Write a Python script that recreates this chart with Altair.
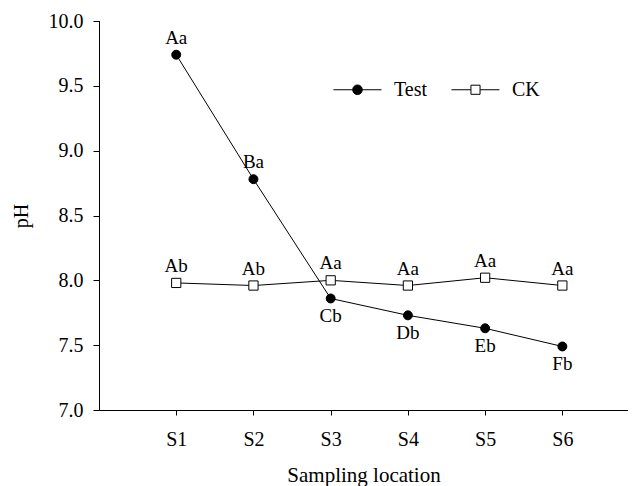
import altair as alt
import pandas as pd

# ---- data ----
sites = ["S1", "S2", "S3", "S4", "S5", "S6"]
site_index = [1, 2, 3, 4, 5, 6]
test_ph = [9.74, 8.78, 7.86, 7.73, 7.63, 7.49]
ck_ph = [7.98, 7.96, 8.00, 7.96, 8.02, 7.96]
test_letters = ["Aa", "Ba", "Cb", "Db", "Eb", "Fb"]
ck_letters = ["Ab", "Ab", "Aa", "Aa", "Aa", "Aa"]
test_label_side = ["above", "above", "below", "below", "below", "below"]
ck_label_side = ["above"] * 6
series_names = ["Test", "CK"]
y_ticks = [7.0, 7.5, 8.0, 8.5, 9.0, 9.5, 10.0]

rows = []
for i in range(len(sites)):
    rows.append(dict(idx=site_index[i], site=sites[i], series="Test",
                     ph=test_ph[i], letter=test_letters[i], side=test_label_side[i]))
for i in range(len(sites)):
    rows.append(dict(idx=site_index[i], site=sites[i], series="CK",
                     ph=ck_ph[i], letter=ck_letters[i], side=ck_label_side[i]))
df = pd.DataFrame(rows)

FONT = "Liberation Serif, Times New Roman, serif"

x_enc = alt.X(
    "idx:Q",
    scale=alt.Scale(domain=[0, 6.85], nice=False, zero=False),
    axis=alt.Axis(
        values=site_index, labelExpr="'S' + datum.value", title="Sampling location",
        grid=False, tickSize=5, labelPadding=14, titlePadding=15,
        labelFontSize=20, titleFontSize=21, labelFont=FONT, titleFont=FONT,
        titleFontWeight="normal", domainColor="black", tickColor="black",
        labelColor="black", titleColor="black", domainWidth=1, tickWidth=1,
    ),
)
y_enc = alt.Y(
    "ph:Q",
    scale=alt.Scale(domain=[7, 10], nice=False, zero=False),
    axis=alt.Axis(
        values=y_ticks, format=".1f", title="pH", grid=False, tickSize=6,
        labelPadding=10, titlePadding=17, labelFontSize=20, titleFontSize=20,
        labelFont=FONT, titleFont=FONT, titleFontWeight="normal",
        domainColor="black", tickColor="black", labelColor="black",
        titleColor="black", domainWidth=1, tickWidth=1,
    ),
)

base = alt.Chart(df)

lines = base.mark_line(color="black", strokeWidth=1).encode(
    x=x_enc, y=y_enc, detail="series:N"
)

points = base.mark_point(opacity=1, stroke="black", strokeWidth=1, filled=False).encode(
    x=x_enc, y=y_enc,
    shape=alt.Shape("series:N", scale=alt.Scale(domain=series_names, range=["circle", "square"]), legend=None),
    fill=alt.Fill("series:N", scale=alt.Scale(domain=series_names, range=["black", "white"]), legend=None),
    size=alt.Size("series:N", scale=alt.Scale(domain=series_names, range=[80, 85]), legend=None),
)

labels_above = base.transform_filter(alt.datum.side == "above").mark_text(
    font=FONT, fontSize=19, dy=-17, color="black"
).encode(x=x_enc, y=y_enc, text="letter:N")

labels_below = base.transform_filter(alt.datum.side == "below").mark_text(
    font=FONT, fontSize=19, dy=18, color="black"
).encode(x=x_enc, y=y_enc, text="letter:N")

# legend symbols: line segment with marker (custom paths, unit = half symbol width)
legend_paths = [
    "M-1,0H-0.2M0.2,0H1M0.2,0A0.2,0.2,0,1,1,-0.2,0A0.2,0.2,0,1,1,0.2,0Z",
    "M-1,0H-0.19M0.19,0H1M-0.19,-0.19H0.19V0.19H-0.19Z",
]
legend_cfg = dict(
    orient="none", legendX=234, legendY=44, direction="horizontal", title=None,
    symbolSize=2304, symbolStrokeColor="black", symbolStrokeWidth=1,
    labelFont=FONT, labelFontSize=20, labelColor="black", labelOffset=12,
    columnPadding=21, padding=0, symbolOpacity=1,
)
legend_layer = base.transform_filter("false").mark_point(
    opacity=1, strokeWidth=1
).encode(
    x=x_enc, y=y_enc,
    shape=alt.Shape("series:N", scale=alt.Scale(domain=series_names, range=legend_paths),
                    legend=alt.Legend(**legend_cfg)),
    fill=alt.Fill("series:N", scale=alt.Scale(domain=series_names, range=["black", "white"]),
                  legend=alt.Legend(**legend_cfg)),
    stroke=alt.Stroke("series:N", scale=alt.Scale(domain=series_names, range=["black", "black"]),
                      legend=alt.Legend(**legend_cfg)),
)

chart = alt.layer(lines, points, labels_above, labels_below, legend_layer).resolve_scale(
    shape="independent", fill="independent", size="independent", stroke="independent"
).properties(
    width=529, height=389,
    autosize=alt.AutoSizeParams(type="none"),
    padding={"left": 91, "top": 13, "right": 0, "bottom": 76},
).configure_view(stroke=None).configure_axis(domainCap="square")

chart.save("out.html", embed_options={"renderer": "svg", "actions": False})
